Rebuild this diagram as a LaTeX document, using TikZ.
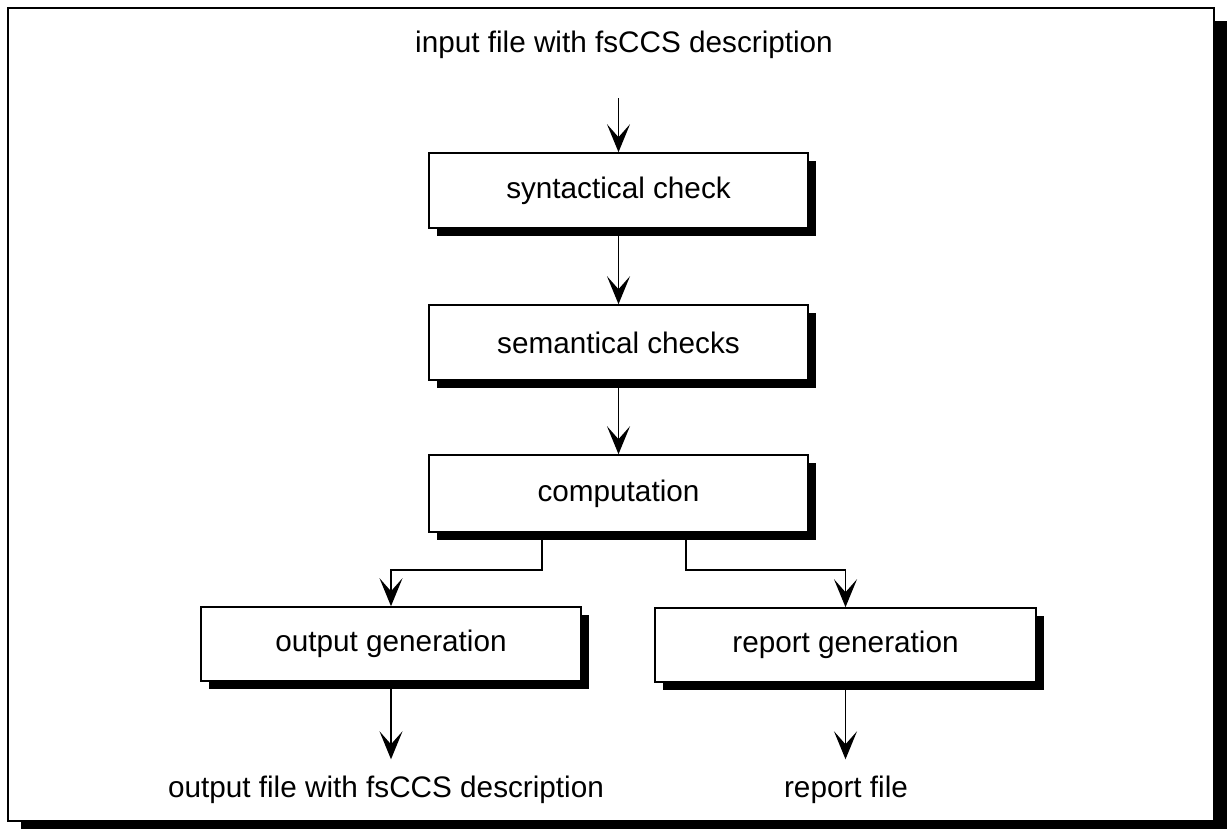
\documentclass[tikz,border=0pt]{standalone}
\usepackage{fontspec}
\setmainfont{Liberation Sans}
\usetikzlibrary{arrows.meta,shadows}
\newcommand\lblfont{\fontsize{29.7}{36}\selectfont}
\begin{document}
\begin{tikzpicture}[x=1pt,y=-1pt,
  stepbox/.style={draw=black, line width=1.6pt, fill=white,
    minimum width=379pt, minimum height=75pt, inner sep=0pt, font=\lblfont,
    drop shadow={shadow xshift=8pt, shadow yshift=-8pt, fill=black, opacity=1}},
  filetext/.style={inner sep=0pt, font=\lblfont, anchor=base},
  conn/.style={line width=1.5pt, -{Stealth[length=28pt,width=23pt,inset=13pt]}},
  frameline/.style={draw=black, line width=2pt, fill=white}]
\useasboundingbox (0,0) rectangle (1229,829);
% outer frame with its shadow
\fill[black] (21,21) rectangle (1227,840);
\path[frameline] (8,8) rectangle (1214,821);

% text at the ends of the chain
\node[filetext] (intext) at (624,53) {input file with fsCCS description};
\node[filetext] (outtext) at (386,797) {output file with fsCCS description};
\node[filetext] (reptext) at (846,797) {report file};

% processing steps
\node[stepbox] (syn) at (618.5,190.5) {syntactical check};
\node[stepbox] (sem) at (618.5,342.5) {semantical checks};
\node[stepbox, minimum height=77pt] (comp) at (618.5,493.5) {computation};
\node[stepbox, minimum width=380pt, minimum height=74pt] (out) at (391,644) {output generation};
\node[stepbox, minimum width=381pt, minimum height=74pt] (rep) at (845.5,645) {report generation};

% branch points below the computation step
\coordinate (bl) at (542,570);
\coordinate (br) at (686,570);

% connectors
\draw[conn, shorten <=39pt] (syn.north |- intext.south) -- (syn.north);
\draw[conn] (syn.south) -- (sem.north);
\draw[conn] (sem.south) -- (comp.north);
\draw[conn] (comp.south -| bl) -- (bl) -| (out.north);
\draw[conn] (comp.south -| br) -- (br) -| (rep.north);
\draw[conn, shorten >=16pt] (out.south) -- (out.south |- outtext.north);
\draw[conn, shorten >=16pt] (rep.south) -- (rep.south |- reptext.north);
\end{tikzpicture}
\end{document}
